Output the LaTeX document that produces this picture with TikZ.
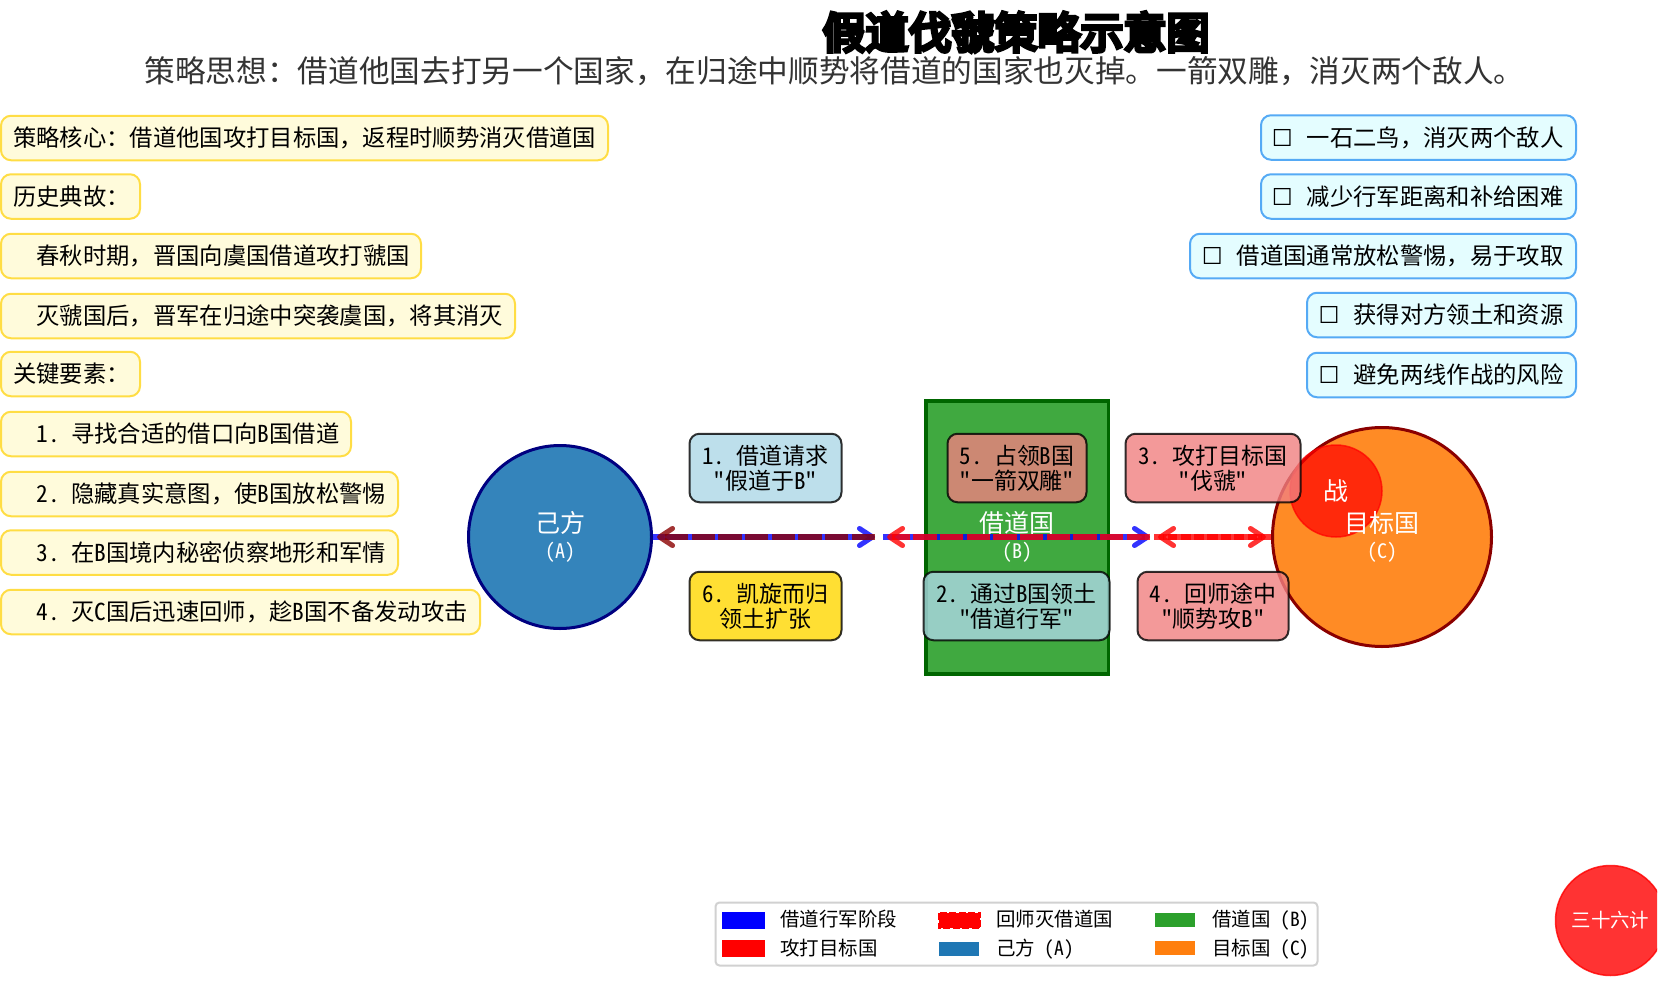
\documentclass[tikz,border=0pt]{standalone}
\usepackage{fontspec}
\setmainfont{Noto Sans CJK SC}
\newfontfamily\hwfont[RawFeature=+hwid]{Noto Sans CJK SC}
\newfontfamily\titlefont[FakeBold=9]{Noto Sans CJK SC}
\newfontfamily\symfont{DejaVu Sans}
\usetikzlibrary{arrows.meta}
\newdimen\pxu \pxu=0.75pt
\newcommand{\hs}[1]{\hspace*{#1em}}
\newcommand{\hw}[1]{{\hwfont #1}}
\definecolor{lyellow}{HTML}{FFFBDB}
\definecolor{byellow}{HTML}{FFDD44}
\definecolor{lcyan}{HTML}{E4FDFF}
\definecolor{bblue}{HTML}{55AAF5}
\definecolor{dkred}{HTML}{8B0000}
\definecolor{lcoral}{HTML}{F08080}
\definecolor{lblue}{HTML}{ADD8E6}
\definecolor{goldc}{HTML}{FFD700}
\definecolor{mgreen}{HTML}{2CA02C}
\definecolor{morange}{HTML}{FF7F0E}
\definecolor{mblue}{HTML}{1F77B4}
\tikzset{
 bodyfont/.style={font=\fontsize{17.5pt}{21pt}\selectfont},
 sidebox/.style={bodyfont,line width=2\pxu,rounded corners=10\pxu,minimum height=44.5\pxu,inner sep=0pt,text height=15.3pt,text depth=2.1pt},
 leftbox/.style={sidebox,draw=byellow,fill=lyellow,anchor=west},
 rightbox/.style={sidebox,draw=bblue,fill=lcyan,anchor=east},
 stepbox/.style={draw=black,line width=2\pxu,rounded corners=10\pxu,inner sep=0pt,align=center,
   fill opacity=.8,draw opacity=.8,text opacity=1,
   font=\fontsize{17.2pt}{18.8pt}\selectfont},
 regionlabel/.style={text=white,align=center,inner sep=0pt,font=\fontsize{18.75pt}{20.5pt}\selectfont},
 legendtext/.style={anchor=west,inner sep=0pt,text height=12.85pt,text depth=1.75pt,font=\fontsize{14.6pt}{18pt}\selectfont},
 flow/.style={line width=3.8pt,draw opacity=.8,-{Straight Barb[length=9.75pt,width=12.75pt,round]}},
 dashflow/.style={flow,dash pattern=on 17.6pt off 2.4pt},
}
\newcommand{\leftnode}[4]{\node[leftbox,minimum width=#3\pxu-1\pxu] (#1) at (0,#2) {\makebox[\dimexpr#3\pxu-25\pxu\relax][l]{#4}};}
\newcommand{\rightnode}[4]{\node[rightbox,minimum width=#3\pxu-1\pxu] (#1) at (1577,#2) {\makebox[\dimexpr#3\pxu-26\pxu\relax][r]{{\symfont ☐}\hspace*{14\pxu}#4}};}
\newcommand{\stepnode}[7]{\node[stepbox,fill=#4,minimum width=#5\pxu,minimum height=68.5\pxu] (#1) at (#2,#3) {#6\\#7};}
\begin{document}
\begin{tikzpicture}[x=0.75pt,y=-0.75pt]
\path[use as bounding box,fill=white] (0,0) rectangle (1667,1006);

% title
\node[inner sep=0pt,font=\titlefont\fontsize{32.25pt}{36pt}\selectfont] (title) at (1016,32) {假道伐虢策略示意图};
\node[inner sep=0pt,text=black!80,text height=20pt,text depth=2.7pt,font=\fontsize{23pt}{28pt}\selectfont] (subtitle) at (834.5,71) {策略思想：借道他国去打另一个国家，在归途中顺势将借道的国家也灭掉。一箭双雕，消灭两个敌人。};

% left column
\leftnode{l1}{138}{608}{策略核心：借道他国攻打目标国，返程时顺势消灭借道国}
\leftnode{l2}{196.5}{140}{历史典故：}
\leftnode{l3}{256}{421}{\hs{1}春秋时期，晋国向虞国借道攻打虢国}
\leftnode{l4}{316}{515}{\hs{1}灭虢国后，晋军在归途中突袭虞国，将其消灭}
\leftnode{l5}{374}{140}{关键要素：}
\leftnode{l6}{434}{351}{\hs{1}\hw{1.}\hs{.5}寻找合适的借口向\hw{B}国借道}
\leftnode{l7}{494}{398}{\hs{1}\hw{2.}\hs{.5}隐藏真实意图，使\hw{B}国放松警惕}
\leftnode{l8}{552.5}{398}{\hs{1}\hw{3.}\hs{.5}在\hw{B}国境内秘密侦察地形和军情}
\leftnode{l9}{612}{480}{\hs{1}\hw{4.}\hs{.5}灭\hw{C}国后迅速回师，趁\hw{B}国不备发动攻击}

% right column
\rightnode{r1}{137.5}{316}{一石二鸟，消灭两个敌人}
\rightnode{r2}{196.5}{316}{减少行军距离和补给困难}
\rightnode{r3}{256}{387}{借道国通常放松警惕，易于攻取}
\rightnode{r4}{315}{270}{获得对方领土和资源}
\rightnode{r5}{375}{270}{避免两线作战的风险}

% regions
\node[circle,draw=blue!50!black,line width=3\pxu,fill=mblue,fill opacity=.9,text opacity=1,minimum size=183\pxu,inner sep=0pt] (A) at (560,537) {};
\node[regionlabel] (Alabel) at (560,537) {己方\\[-1pt]{\fontsize{15pt}{15pt}\selectfont\hw{(A)}}};
\node[rectangle,draw=green!40!black,line width=3.5\pxu,fill=mgreen,fill opacity=.9,minimum width=182.5\pxu,minimum height=273\pxu,inner sep=0pt] (B) at (1017,537.5) {};
\node[regionlabel] (Blabel) at (1017,537) {借道国\\[-1pt]{\fontsize{15pt}{15pt}\selectfont\hw{(B)}}};
\node[circle,draw=dkred,line width=3\pxu,fill=morange,fill opacity=.9,minimum size=219\pxu,inner sep=0pt] (C) at (1382,537) {};
\node[circle,draw=red,line width=1.5\pxu,draw opacity=.7,fill=red,fill opacity=.7,minimum size=92\pxu,inner sep=0pt] (battle) at (1336,491) {};
\node[regionlabel] (Clabel) at (1382,537) {目标国\\[-1pt]{\fontsize{15pt}{15pt}\selectfont\hw{(C)}}};
\node[regionlabel] (battlelabel) at (1336,491) {战};

% junction points on the axis
\coordinate (m1) at (875,537);
\coordinate (m2) at (883,537);
\coordinate (m3) at (1150,537);
\coordinate (m4) at (1154,537);

% flows
\draw[flow,draw=blue] (A.east) -- (m1);
\draw[dashflow,draw=dkred,shorten >=4\pxu] (m1) -- (A.east);
\draw[flow,draw=blue] (m2) -- (m3);
\draw[dashflow,draw=red,shorten >=4\pxu] (m3) -- (m2);
\draw[dashflow,draw=red,shorten >=5\pxu] (m4) -- (C.west);
\draw[dashflow,draw=red,shorten >=4\pxu] (C.west) -- (m4);

% step labels
\stepnode{s1}{765.5}{468}{lblue}{152}{\hw{1.}\hs{.5}借道请求}{\hw{"}假道于\hw{B"}}
\stepnode{s6}{765.5}{606}{goldc}{152}{\hw{6.}\hs{.5}凯旋而归}{领土扩张}
\stepnode{s5}{1017}{468}{lcoral}{139}{\hw{5.}\hs{.5}占领\hw{B}国}{\hw{"}一箭双雕\hw{"}}
\stepnode{s2}{1016.5}{606}{lblue}{186}{\hw{2.}\hs{.5}通过\hw{B}国领土}{\hw{"}借道行军\hw{"}}
\stepnode{s3}{1213}{468}{lcoral}{175}{\hw{3.}\hs{.5}攻打目标国}{\hw{"}伐虢\hw{"}}
\stepnode{s4}{1213}{606}{lcoral}{151}{\hw{4.}\hs{.5}回师途中}{\hw{"}顺势攻\hw{B"}}

% legend
\node[draw=black!18,line width=2\pxu,fill=white,rounded corners=4\pxu,minimum width=602\pxu,minimum height=63\pxu,inner sep=0pt] (legend) at (1016.5,934) {};
\fill[blue] (722,912) rectangle (765,929);
\fill[red] (722,940) rectangle (765,957);
\draw[red,fill=red,line width=2.5\pxu,dash pattern=on 7\pxu off 2.5\pxu] (939,913) rectangle (980,928);
\fill[mblue] (939,942) rectangle (979,956);
\fill[mgreen] (1155,913) rectangle (1195,927);
\fill[morange] (1155,941) rectangle (1195,955);
\node[legendtext] (t1) at (780,919.5) {借道行军阶段};
\node[legendtext] (t2) at (780,948) {攻打目标国};
\node[legendtext] (t3) at (996,919.5) {回师灭借道国};
\node[legendtext] (t4) at (996,948) {己方\hs{.5}\hw{(A)}};
\node[legendtext] (t5) at (1212,919.5) {借道国\hs{.5}\hw{(B)}};
\node[legendtext] (t6) at (1212,948) {目标国\hs{.5}\hw{(C)}};

% seal, cut by the edge of the plot
\begin{scope}
\clip (1500,850) rectangle (1657,990);
\node[circle,draw=red,line width=1.5\pxu,draw opacity=.8,fill=red,fill opacity=.8,text=white,text opacity=1,minimum size=110\pxu,inner sep=0pt,font=\fontsize{14.6pt}{18pt}\selectfont] (seal) at (1610.5,920.5) {三十六计};
\end{scope}
\end{tikzpicture}
\end{document}
